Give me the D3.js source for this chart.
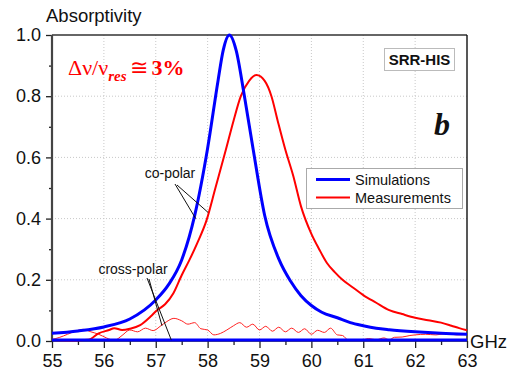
<!DOCTYPE html>
<html>
<head>
<meta charset="utf-8">
<script src="https://cdn.jsdelivr.net/npm/d3@7"></script>
<style>
  body { margin: 0; background: #fff; }
  svg { display: block; font-family: Arial, "Liberation Sans", sans-serif; }
</style>
</head>
<body>
<script>
// simulated co-polar absorptivity
var simFreq = [55, 55.5, 56, 56.5, 57, 57.25, 57.5, 57.75, 58, 58.2, 58.3, 58.42, 58.55, 58.7, 58.88, 59.1, 59.38, 59.6, 59.8, 60, 60.2, 60.5, 60.75, 61, 61.25, 61.5, 62, 62.5, 63];
var simVal  = [0.025, 0.033, 0.046, 0.072, 0.134, 0.185, 0.265, 0.41, 0.63, 0.85, 0.95, 1.0, 0.95, 0.81, 0.624, 0.41, 0.265, 0.195, 0.148, 0.116, 0.094, 0.076, 0.06, 0.05, 0.042, 0.037, 0.03, 0.025, 0.022];

// measured co-polar absorptivity
var measFreq = [55, 55.4, 55.7, 55.9, 56.1, 56.2, 56.35, 56.5, 56.7, 56.9, 57.02, 57.18, 57.34, 57.5, 57.65, 57.8, 57.98, 58.15, 58.35, 58.5, 58.64, 58.8, 58.94, 59.1, 59.23, 59.35, 59.5, 59.65, 59.8, 60.0, 60.15, 60.3, 60.45, 60.6, 60.8, 61.0, 61.25, 61.5, 61.75, 62.0, 62.25, 62.5, 62.7, 62.85, 63];
var measVal  = [0.003, 0.002, 0.004, 0.025, 0.036, 0.042, 0.036, 0.04, 0.052, 0.08, 0.1, 0.12, 0.156, 0.215, 0.265, 0.32, 0.395, 0.5, 0.624, 0.72, 0.8, 0.85, 0.869, 0.85, 0.8, 0.72, 0.624, 0.54, 0.44, 0.35, 0.3, 0.255, 0.225, 0.2, 0.175, 0.15, 0.125, 0.101, 0.088, 0.076, 0.068, 0.06, 0.05, 0.042, 0.035];

// measured cross-polar
var crossFreq = [55.0, 55.15, 55.3, 55.45, 55.6, 55.75, 55.9, 56.05, 56.2, 56.35, 56.5, 56.65, 56.8, 56.95, 57.1, 57.2, 57.35, 57.5, 57.62, 57.75, 57.87, 58.0, 58.12, 58.25, 58.37, 58.5, 58.62, 58.75, 58.87, 59.0, 59.12, 59.25, 59.37, 59.5, 59.62, 59.75, 59.87, 60.0, 60.12, 60.25, 60.37, 60.5, 60.6, 60.72, 60.85, 61.0, 61.1, 61.25, 61.4, 61.5, 61.6, 61.75, 61.9, 62.0, 62.2, 62.4, 62.6, 62.8, 63.0];
var crossVal  = [0.005, 0.012, 0.022, 0.032, 0.038, 0.03, 0.022, 0.01, 0.002, 0.018, 0.036, 0.03, 0.042, 0.034, 0.05, 0.062, 0.074, 0.066, 0.055, 0.06, 0.04, 0.036, 0.02, 0.025, 0.036, 0.05, 0.06, 0.045, 0.055, 0.036, 0.048, 0.032, 0.045, 0.03, 0.042, 0.028, 0.04, 0.022, 0.035, 0.028, 0.042, 0.02, 0.018, 0.002, 0.003, 0.004, 0.008, 0.004, 0.01, 0.004, 0.012, 0.013, 0.018, 0.02, 0.022, 0.02, 0.024, 0.02, 0.022];

// simulated cross-polar (flat)
var simCrossFreq = [55, 63];
var simCrossVal  = [0.003, 0.003];

var xTicks = [55, 56, 57, 58, 59, 60, 61, 62, 63];
var yTicks = [0, 0.2, 0.4, 0.6, 0.8, 1.0];

var W = 512, H = 372;
var pL = 52, pR = 467, pT = 35, pB = 341;

var x = d3.scaleLinear().domain([55, 63]).range([pL, pR]);
var y = d3.scaleLinear().domain([0, 1]).range([pB, pT]);

var svg = d3.select("body").append("svg")
    .attr("width", W)
    .attr("height", H);

// dotted grid
svg.append("g").selectAll("line")
    .data(xTicks.slice(1, -1))
  .enter().append("line")
    .attr("x1", d => x(d)).attr("x2", d => x(d))
    .attr("y1", pT).attr("y2", pB)
    .attr("stroke", "#c8c8c8").attr("stroke-width", 1)
    .attr("stroke-dasharray", "1,2");
svg.append("g").selectAll("line")
    .data(yTicks.slice(1, -1))
  .enter().append("line")
    .attr("x1", pL).attr("x2", pR)
    .attr("y1", d => y(d)).attr("y2", d => y(d))
    .attr("stroke", "#c8c8c8").attr("stroke-width", 1)
    .attr("stroke-dasharray", "1,2");

// axes
var xAxis = d3.axisBottom(x).tickValues(xTicks).tickSize(7).tickPadding(6).tickFormat(d3.format("d"));
var xMinor = d3.axisBottom(x).tickValues(d3.range(55.5, 63, 1)).tickSize(4).tickFormat("");
var yAxis = d3.axisLeft(y).tickValues(yTicks).tickSize(6).tickPadding(5).tickFormat(d3.format(".1f"));
var yMinor = d3.axisLeft(y).tickValues([0.1, 0.3, 0.5, 0.7, 0.9]).tickSize(3).tickFormat("");

function styleAxis(g) {
  g.select(".domain").remove();
  g.selectAll(".tick line").attr("stroke", "#222").attr("stroke-width", 1.3);
  g.selectAll(".tick text").attr("fill", "#111").style("font-size", "18px")
    .style("font-family", "Arial, 'Liberation Sans', sans-serif");
}

svg.append("g").attr("transform", "translate(0," + pB + ")").call(xAxis).call(styleAxis);
svg.append("g").attr("transform", "translate(0," + pB + ")").call(xMinor).call(styleAxis);
svg.append("g").attr("transform", "translate(" + pL + ",0)").call(yAxis).call(styleAxis);
svg.append("g").attr("transform", "translate(" + pL + ",0)").call(yMinor).call(styleAxis);

// frame
svg.append("line").attr("x1", pL).attr("x2", pR).attr("y1", pT).attr("y2", pT)
    .attr("stroke", "#333").attr("stroke-width", 1.6);
svg.append("line").attr("x1", pR).attr("x2", pR).attr("y1", pT).attr("y2", pB)
    .attr("stroke", "#111").attr("stroke-width", 1.4);
svg.append("line").attr("x1", pL).attr("x2", pR).attr("y1", pB).attr("y2", pB)
    .attr("stroke", "#222").attr("stroke-width", 1.4);
svg.append("line").attr("x1", pL).attr("x2", pL).attr("y1", pT).attr("y2", pB)
    .attr("stroke", "#444").attr("stroke-width", 2.2);

// curves
var line = d3.line()
    .x(d => x(d[0]))
    .y(d => y(d[1]))
    .curve(d3.curveMonotoneX);

function pairs(f, v) { return f.map((d, i) => [d, v[i]]); }

svg.append("path").datum(pairs(crossFreq, crossVal))
    .attr("d", line).attr("fill", "none")
    .attr("stroke", "#ff2020").attr("stroke-width", 1);
svg.append("path").datum(pairs(measFreq, measVal))
    .attr("d", line).attr("fill", "none")
    .attr("stroke", "#ff0000").attr("stroke-width", 2);
svg.append("path").datum(pairs(simFreq, simVal))
    .attr("d", line).attr("fill", "none")
    .attr("stroke", "#0000ff").attr("stroke-width", 3);
svg.append("path").datum(pairs(simCrossFreq, simCrossVal))
    .attr("d", line).attr("fill", "none")
    .attr("stroke", "#0000ff").attr("stroke-width", 3);

// annotations
svg.append("text").attr("x", 170).attr("y", 178)
    .attr("text-anchor", "middle").style("font-size", "14px").attr("fill", "#111")
    .text("co-polar");
svg.append("line").attr("x1", 175).attr("y1", 184).attr("x2", x(57.77)).attr("y2", y(0.40))
    .attr("stroke", "#111").attr("stroke-width", 1);
svg.append("line").attr("x1", 177).attr("y1", 185).attr("x2", x(58.01)).attr("y2", y(0.42))
    .attr("stroke", "#111").attr("stroke-width", 1);

svg.append("text").attr("x", 133).attr("y", 274)
    .attr("text-anchor", "middle").style("font-size", "14px").attr("fill", "#111")
    .text("cross-polar");
svg.append("line").attr("x1", 147).attr("y1", 278).attr("x2", x(57.3)).attr("y2", y(0.003))
    .attr("stroke", "#111").attr("stroke-width", 1);
svg.append("line").attr("x1", 149).attr("y1", 279).attr("x2", x(57.12)).attr("y2", y(0.05))
    .attr("stroke", "#111").attr("stroke-width", 1);

// axis titles
svg.append("text").attr("x", 46).attr("y", 22)
    .style("font-size", "18.5px").attr("fill", "#111").text("Absorptivity");
svg.append("text").attr("x", 470).attr("y", 348)
    .style("font-size", "18.5px").attr("fill", "#111").text("GHz");

// legend
var lg = svg.append("g");
lg.append("rect").attr("x", 306.5).attr("y", 168.5).attr("width", 156).attr("height", 40)
    .attr("fill", "#fff").attr("stroke", "#aaa").attr("stroke-width", 1);
lg.append("line").attr("x1", 316).attr("x2", 350).attr("y1", 179.5).attr("y2", 179.5)
    .attr("stroke", "#0000ff").attr("stroke-width", 3);
lg.append("line").attr("x1", 316).attr("x2", 350).attr("y1", 197.5).attr("y2", 197.5)
    .attr("stroke", "#ff0000").attr("stroke-width", 2);
lg.append("text").attr("x", 355).attr("y", 184.5).style("font-size", "14.5px").attr("fill", "#111")
    .text("Simulations");
lg.append("text").attr("x", 355).attr("y", 202.5).style("font-size", "14.5px").attr("fill", "#111")
    .text("Measurements");

// SRR-HIS label
svg.append("rect").attr("x", 384.5).attr("y", 48.5).attr("width", 70).attr("height", 22)
    .attr("fill", "#fff").attr("stroke", "#bbb").attr("stroke-width", 1);
svg.append("text").attr("x", 419.5).attr("y", 65).attr("text-anchor", "middle")
    .style("font-size", "15px").style("font-weight", "bold").attr("fill", "#111")
    .text("SRR-HIS");

// panel letter
svg.append("text").attr("x", 434).attr("y", 135)
    .style("font-family", "'Liberation Serif', 'Times New Roman', serif")
    .style("font-size", "32px").style("font-weight", "bold").style("font-style", "italic")
    .attr("fill", "#111").text("b");

// bandwidth note
var note = svg.append("text").attr("x", 68).attr("y", 75)
    .style("font-family", "'Liberation Serif', 'Times New Roman', serif")
    .style("font-size", "22px").attr("fill", "#ff0000");
note.append("tspan").text("Δν/ν");
note.append("tspan").attr("dy", 6).style("font-size", "15px")
    .style("font-style", "italic").style("font-weight", "bold").text("res");
note.append("tspan").attr("dy", -6).attr("dx", 3).text("≅");
note.append("tspan").attr("dx", 4).style("font-weight", "bold").text("3%");
</script>
</body>
</html>
